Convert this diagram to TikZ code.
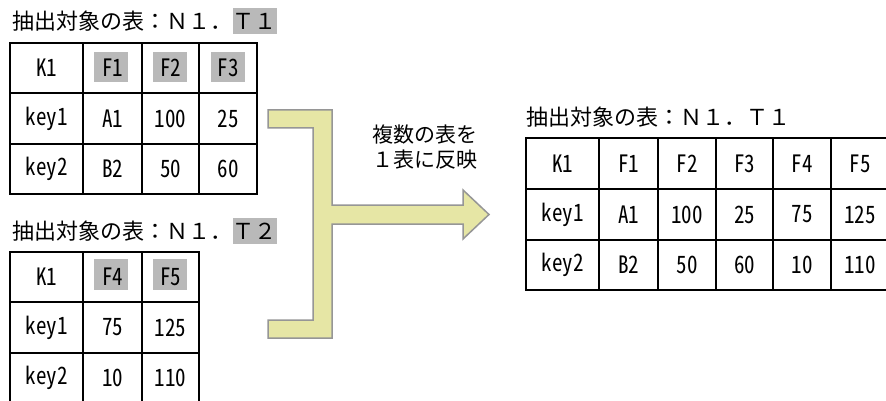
\documentclass[tikz,border=0pt]{standalone}
\usepackage{fontspec}
\usepackage{graphicx}
\setmainfont{Noto Sans CJK JP}
\newfontfamily\hwfont{Noto Sans CJK JP}[CharacterWidth=Half]
\newcommand\celltxt[1]{\scalebox{1}[1.14]{#1}}
\definecolor{hl}{RGB}{185,185,185}
\definecolor{arrowfill}{RGB}{230,230,165}
\definecolor{arrowline}{RGB}{150,150,150}
\begin{document}
\begin{tikzpicture}[x=1pt,y=-1pt,
  cell/.style={font=\hwfont\fontsize{21}{24}\selectfont, inner sep=0pt},
  ttl/.style={font=\fontsize{22}{26}\selectfont, inner sep=0pt, anchor=west},
  grid/.style={line width=1.6pt, line cap=rect},
  bigarrow/.style={fill=arrowfill, draw=arrowline, line width=1.5pt, line join=miter}]
\useasboundingbox (0,0) rectangle (886,401);
\clip (0,0) rectangle (886,401);
\fill[white] (0,0) rectangle (886,401);

% ---------- table 1 ----------
\node[ttl] (t1a) at (12,21) {抽出対象の表：Ｎ１．};
\node[ttl, fill=hl, minimum height=26pt, anchor=west] (t1b) at (t1a.east) {Ｔ１};
\foreach \x in {94,153,211} \fill[hl] (\x,52) rectangle ++(34,30);
\draw[grid] (10,43) rectangle (257,194);
\foreach \x in {83,142,199} \draw[grid] (\x,43) -- (\x,194);
\foreach \y in {93,144} \draw[grid] (10,\y) -- (257,\y);
\node[cell] (a11) at (46.5,68) {\celltxt{K1}};
\node[cell] (a12) at (112.5,68) {\celltxt{F1}};
\node[cell] (a13) at (170.5,68) {\celltxt{F2}};
\node[cell] (a14) at (228,68) {\celltxt{F3}};
\node[cell] (a21) at (46.5,118.5) {\celltxt{key1}};
\node[cell] (a22) at (112.5,118.5) {\celltxt{A1}};
\node[cell] (a23) at (170.5,118.5) {\celltxt{100}};
\node[cell] (a24) at (228,118.5) {\celltxt{25}};
\node[cell] (a31) at (46.5,169) {\celltxt{key2}};
\node[cell] (a32) at (112.5,169) {\celltxt{B2}};
\node[cell] (a33) at (170.5,169) {\celltxt{50}};
\node[cell] (a34) at (228,169) {\celltxt{60}};

% ---------- table 2 ----------
\node[ttl] (t2a) at (12,231) {抽出対象の表：Ｎ１．};
\node[ttl, fill=hl, minimum height=26pt, anchor=west] (t2b) at (t2a.east) {Ｔ２};
\foreach \x in {94,153} \fill[hl] (\x,259) rectangle ++(34,31);
\draw[grid] (10,252) rectangle (199,404);
\foreach \x in {83,142} \draw[grid] (\x,252) -- (\x,404);
\foreach \y in {302,353} \draw[grid] (10,\y) -- (199,\y);
\node[cell] (b11) at (46.5,277) {\celltxt{K1}};
\node[cell] (b12) at (112.5,277) {\celltxt{F4}};
\node[cell] (b13) at (170.5,277) {\celltxt{F5}};
\node[cell] (b21) at (46.5,327.5) {\celltxt{key1}};
\node[cell] (b22) at (112.5,327.5) {\celltxt{75}};
\node[cell] (b23) at (170.5,327.5) {\celltxt{125}};
\node[cell] (b31) at (46.5,378) {\celltxt{key2}};
\node[cell] (b32) at (112.5,378) {\celltxt{10}};
\node[cell] (b33) at (170.5,378) {\celltxt{110}};

% ---------- arrow ----------
\draw[bigarrow] (268,110) -- (332,110) -- (332,205) -- (463,205) -- (463,190)
  -- (489,214.5) -- (463,239) -- (463,224) -- (332,224) -- (332,338)
  -- (268,338) -- (268,320) -- (313,320) -- (313,128) -- (268,128) -- cycle;
\node[font=\fontsize{21}{25}\selectfont, align=center, inner sep=0pt] (note) at (425,147) {複数の表を\\１表に反映};

% ---------- result table ----------
\node[ttl] (t3a) at (526,117) {抽出対象の表：Ｎ１．Ｔ１};
\draw[grid] (526,138) rectangle (889,290);
\foreach \x in {599,658,716,773,831} \draw[grid] (\x,138) -- (\x,290);
\foreach \y in {189,240} \draw[grid] (526,\y) -- (889,\y);
\node[cell] (c11) at (562.5,163.5) {\celltxt{K1}};
\node[cell] (c12) at (628.5,163.5) {\celltxt{F1}};
\node[cell] (c13) at (687,163.5) {\celltxt{F2}};
\node[cell] (c14) at (744.5,163.5) {\celltxt{F3}};
\node[cell] (c15) at (802,163.5) {\celltxt{F4}};
\node[cell] (c16) at (860,163.5) {\celltxt{F5}};
\node[cell] (c21) at (562.5,214.5) {\celltxt{key1}};
\node[cell] (c22) at (628.5,214.5) {\celltxt{A1}};
\node[cell] (c23) at (687,214.5) {\celltxt{100}};
\node[cell] (c24) at (744.5,214.5) {\celltxt{25}};
\node[cell] (c25) at (802,214.5) {\celltxt{75}};
\node[cell] (c26) at (860,214.5) {\celltxt{125}};
\node[cell] (c31) at (562.5,265) {\celltxt{key2}};
\node[cell] (c32) at (628.5,265) {\celltxt{B2}};
\node[cell] (c33) at (687,265) {\celltxt{50}};
\node[cell] (c34) at (744.5,265) {\celltxt{60}};
\node[cell] (c35) at (802,265) {\celltxt{10}};
\node[cell] (c36) at (860,265) {\celltxt{110}};
\end{tikzpicture}
\end{document}
